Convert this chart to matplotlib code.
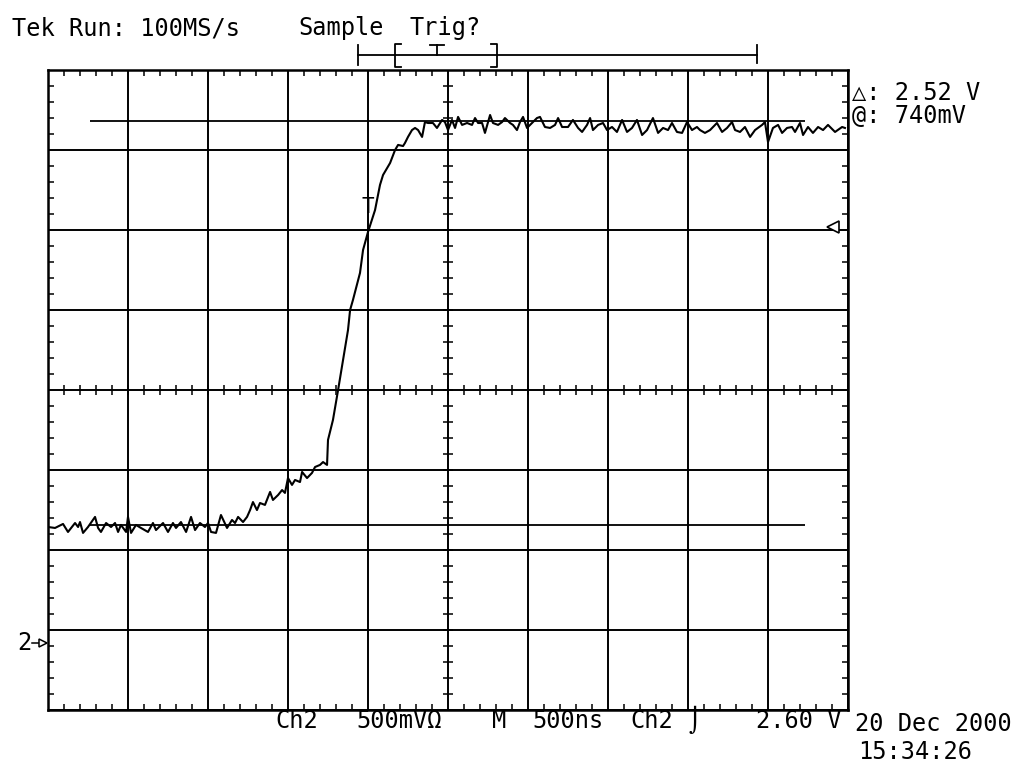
import matplotlib
matplotlib.use("Agg")
import matplotlib.pyplot as plt
import numpy as np

# Ch2 trace: time from left edge of screen (ns) and volts
t_ns = [0, 44, 94, 125, 169, 188, 200, 219, 250, 294, 313, 331, 363, 394, 419, 438,
        456, 488, 500, 519, 550, 581, 625, 656, 675, 719, 750, 781, 800, 831, 863, 894,
        919, 950, 981, 1000, 1019, 1050, 1081, 1119, 1150, 1169, 1188, 1219, 1244, 1263,
        1281, 1306, 1325, 1356, 1388, 1406, 1438, 1463, 1481, 1500, 1525, 1544, 1575,
        1588, 1619, 1650, 1669, 1700, 1719, 1744, 1750, 1781, 1813, 1844, 1875, 1888,
        1906, 1950, 1969, 2000, 2044, 2075, 2094, 2138, 2169, 2188, 2219, 2231, 2250,
        2275, 2294, 2313, 2338, 2356, 2375, 2406, 2431, 2463, 2481, 2500, 2525, 2544,
        2563, 2588, 2619, 2650, 2669, 2688, 2713, 2731, 2763, 2781, 2813, 2838, 2856,
        2888, 2906, 2931, 2950, 2969, 2994, 3025, 3056, 3075, 3106, 3138, 3169, 3188,
        3213, 3250, 3281, 3313, 3338, 3369, 3388, 3406, 3438, 3469, 3494, 3525, 3556,
        3588, 3619, 3650, 3681, 3713, 3744, 3781, 3813, 3844, 3875, 3900, 3931, 3963,
        3994, 4025, 4056, 4075, 4106, 4138, 4181, 4213, 4244, 4275, 4294, 4325, 4356,
        4388, 4419, 4463, 4481, 4500, 4531, 4563, 4588, 4619, 4650, 4669, 4700, 4719,
        4750, 4781, 4813, 4844, 4875, 4919, 4963, 4981]
v_ch2 = [0.725, 0.719, 0.744, 0.694, 0.750, 0.725, 0.756, 0.688, 0.725, 0.788, 0.719,
         0.694, 0.750, 0.725, 0.750, 0.694, 0.738, 0.694, 0.788, 0.688, 0.738, 0.719,
         0.694, 0.750, 0.706, 0.750, 0.694, 0.750, 0.719, 0.756, 0.694, 0.788, 0.706,
         0.750, 0.725, 0.750, 0.694, 0.688, 0.800, 0.719, 0.769, 0.750, 0.788, 0.756,
         0.788, 0.831, 0.881, 0.831, 0.875, 0.863, 0.944, 0.894, 0.925, 0.956, 0.938,
         1.031, 0.988, 1.019, 1.006, 1.069, 1.031, 1.063, 1.100, 1.113, 1.131, 1.113,
         1.269, 1.394, 1.581, 1.769, 1.956, 2.081, 2.144, 2.313, 2.456, 2.569, 2.706,
         2.863, 2.925, 3.000, 3.081, 3.113, 3.106, 3.125, 3.163, 3.206, 3.219, 3.206,
         3.163, 3.256, 3.250, 3.250, 3.219, 3.269, 3.256, 3.206, 3.269, 3.219, 3.288,
         3.238, 3.250, 3.238, 3.281, 3.250, 3.250, 3.188, 3.300, 3.250, 3.238, 3.256,
         3.281, 3.250, 3.238, 3.206, 3.256, 3.288, 3.219, 3.250, 3.281, 3.288, 3.225,
         3.219, 3.238, 3.281, 3.225, 3.225, 3.269, 3.219, 3.194, 3.238, 3.281, 3.206,
         3.238, 3.250, 3.206, 3.225, 3.194, 3.269, 3.194, 3.219, 3.269, 3.175, 3.206,
         3.281, 3.188, 3.219, 3.206, 3.250, 3.194, 3.188, 3.256, 3.206, 3.225, 3.206,
         3.188, 3.206, 3.250, 3.194, 3.219, 3.256, 3.206, 3.194, 3.225, 3.163, 3.206,
         3.238, 3.256, 3.131, 3.219, 3.238, 3.188, 3.219, 3.225, 3.194, 3.250, 3.175,
         3.225, 3.188, 3.225, 3.206, 3.238, 3.194, 3.225, 3.219]

volts_per_div = 0.5
ns_per_div = 500
screen_lo = -0.41875          # volts at bottom edge (ground 0.84 div up)
trig_level = 2.60
trig_time = 2000
cursor_at = 0.74
cursor_delta = 2.52
cursor_span = (262, 4731)

FONT = ["DejaVu Sans Mono", "DejaVu Sans"]
FS = 17

fig = plt.figure(figsize=(10.14, 7.65), dpi=100)
W, H = 1014, 765
ax = fig.add_axes([48 / W, 55 / H, 800 / W, 640 / H])
ax.set_xlim(0, 10 * ns_per_div)
ax.set_ylim(screen_lo, screen_lo + 8 * volts_per_div)

# graticule
xmaj = np.arange(0, 10 * ns_per_div + 1, ns_per_div)
ymaj = screen_lo + np.arange(9) * volts_per_div
xmin = np.arange(0, 10 * ns_per_div + 1, ns_per_div / 5)
ymin = screen_lo + np.arange(41) * volts_per_div / 5
ax.set_xticks(xmaj)
ax.set_yticks(ymaj)
ax.set_xticks(xmin, minor=True)
ax.set_yticks(ymin, minor=True)
ax.set_xticklabels([])
ax.set_yticklabels([])
ax.tick_params(which="major", length=0)
ax.tick_params(which="minor", direction="in", length=4, width=1.1,
               top=True, right=True, bottom=True, left=True)
ax.grid(which="major", color="black", lw=1.4)
for s in ax.spines.values():
    s.set_linewidth(1.8)

# centre cross ticks
xc = 5 * ns_per_div
yc = screen_lo + 4 * volts_per_div
ax.plot(xmin, np.full(len(xmin), yc), ls="none", marker="|", ms=7.5, mew=1.1, color="black")
ax.plot(np.full(len(ymin), xc), ymin, ls="none", marker="_", ms=7.5, mew=1.1, color="black")

# cursors
ax.hlines([cursor_at, cursor_at + cursor_delta], cursor_span[0], cursor_span[1],
          color="black", lw=1.3)

# trace
ax.plot(t_ns, v_ch2, color="black", lw=1.5)

# trigger point marker on the trace
ax.annotate("T", xy=(trig_time, trig_level), xytext=(0, 10), textcoords="offset points",
            ha="center", va="baseline", fontsize=15, family=FONT)

# trigger level arrow on the right edge
yax = ax.get_yaxis_transform()
ax.plot([0.981], [trig_level], transform=yax, marker="<", ms=9, mfc="white",
        mec="black", mew=1.2, clip_on=False)

# ground marker "2->"
ax.text(-0.039, 0, "2", transform=yax, ha="left", va="center", fontsize=FS, family=FONT)
ax.plot([-0.020, -0.008], [0, 0], transform=yax, color="black", lw=1.1, clip_on=False)
ax.plot([-0.006], [0], transform=yax, marker=">", ms=6, mfc="white", mec="black",
        mew=1.1, clip_on=False)

# overlay for screen annotations, in pixel coordinates
ov = fig.add_axes([0, 0, 1, 1], zorder=5)
ov.set_xlim(0, W)
ov.set_ylim(H, 0)
ov.axis("off")
ov.patch.set_alpha(0)

def txt(x, y, s):
    ov.text(x, y, s, ha="left", va="baseline", fontsize=FS, family=FONT, color="black")

txt(12, 35, "Tek Run: 100MS/s")
txt(298, 35, "Sample")
txt(410, 35, "Trig?")
txt(852, 100, "\u25b3: 2.52 V")
txt(852, 123, "@: 740mV")
txt(275, 728, "Ch2")
txt(356, 728, "500mV\u03a9")
txt(492, 728, "M")
txt(532, 728, "500ns")
txt(630, 728, "Ch2")
txt(688, 728, "\u2321")
txt(756, 728, "2.60 V")
txt(855, 731, "20 Dec 2000")
txt(858, 759, "15:34:26")

# record / window indicator
k = dict(color="black", lw=1.3)
ov.plot([358, 757], [55, 55], **k)
ov.plot([358, 358], [45, 65], **k)
ov.plot([757, 757], [45, 63], **k)
ov.plot([401, 395, 395, 401], [44, 44, 67, 67], **k)
ov.plot([491, 497, 497, 491], [44, 44, 67, 67], **k)
ov.plot([430, 444], [45, 45], **k)
ov.plot([437, 437], [45, 55], **k)

fig.savefig("out.png", dpi=100, facecolor="white")
